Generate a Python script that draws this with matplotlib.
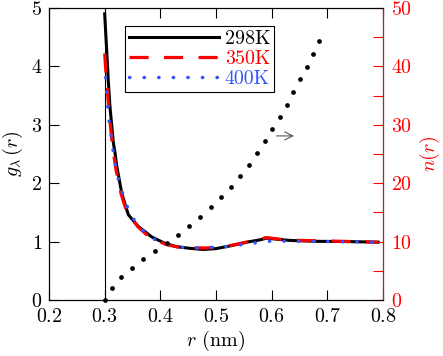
import matplotlib
matplotlib.use("Agg")
import matplotlib.pyplot as plt

plt.rcParams["font.family"] = "cmr10"
plt.rcParams["mathtext.fontset"] = "cm"
plt.rcParams["axes.formatter.use_mathtext"] = True
plt.rcParams["font.size"] = 14.4

# g(r) curves
r_298 = [0.300, 0.3035, 0.3065, 0.3096, 0.3126, 0.3155, 0.3186, 0.3216, 0.3306, 0.3425, 0.3604,
         0.3845, 0.4084, 0.4293, 0.453, 0.477, 0.500, 0.525, 0.555, 0.579, 0.591, 0.610, 0.633,
         0.680, 0.740, 0.791]
g_298 = [4.90, 4.30, 3.75, 3.30, 3.00, 2.70, 2.52, 2.30, 1.83, 1.46, 1.26,
         1.08, 0.97, 0.913, 0.885, 0.865, 0.88, 0.925, 0.99, 1.03, 1.06, 1.04, 1.02,
         1.005, 1.00, 0.99]

r_350 = [0.300, 0.3030, 0.3060, 0.3090, 0.3120, 0.3150, 0.3200, 0.3300, 0.3400, 0.3600, 0.3800,
         0.4100, 0.4300, 0.4550, 0.4800, 0.5050, 0.5300, 0.5600, 0.5800, 0.5900, 0.6150, 0.6500,
         0.7000, 0.7500, 0.7910]
g_350 = [4.22, 3.80, 3.45, 3.12, 2.82, 2.58, 2.25, 1.80, 1.50, 1.25, 1.08,
         0.95, 0.91, 0.895, 0.89, 0.905, 0.94, 1.00, 1.04, 1.07, 1.04, 1.02,
         1.01, 1.00, 0.99]

r_400 = [0.3018, 0.3036, 0.3054, 0.3078, 0.3114, 0.3144, 0.3186, 0.3234, 0.3306, 0.3378, 0.3486,
         0.3635, 0.3814, 0.4053, 0.430, 0.455, 0.480, 0.505, 0.530, 0.555, 0.580, 0.600,
         0.640, 0.700, 0.760, 0.791]
g_400 = [3.81, 3.56, 3.31, 3.07, 2.83, 2.60, 2.35, 2.11, 1.88, 1.66, 1.43,
         1.24, 1.07, 0.98, 0.91, 0.89, 0.895, 0.905, 0.925, 0.96, 0.99, 1.01,
         1.005, 1.00, 0.995, 0.99]

# coordination number n(r)
r_n = [0.300, 0.3126, 0.3293, 0.3486, 0.3694, 0.3904, 0.4114, 0.4323, 0.4520, 0.4718, 0.4905,
       0.5095, 0.5269, 0.5436, 0.5593, 0.5736, 0.5875, 0.6006, 0.6144, 0.6270, 0.6388, 0.6509,
       0.6629, 0.6742, 0.6850]
n_r = [0.0, 2.1, 3.94, 5.53, 6.97, 8.39, 9.81, 11.18, 12.67, 14.21, 15.87,
       17.58, 19.35, 21.23, 23.16, 25.1, 27.17, 29.28, 31.38, 33.44, 35.66, 37.78,
       39.94, 42.12, 44.34]

red = "#ff0000"
blue = "#3355ff"

fig = plt.figure(figsize=(4.43, 3.56), dpi=100)
ax = fig.add_axes([0.1106, 0.1573, 0.754, 0.8202])

ax.axvline(0.3, color="black", lw=0.8)
ax.plot(r_298, g_298, color="black", lw=2.2, label="298K")
ax.plot(r_350, g_350, color=red, lw=2.3, ls=(0, (6.0, 4.8)), label="350K")
ax.plot(r_400, g_400, color=blue, lw=2.5, ls=(0, (0.1, 4.1)),
        dash_capstyle="round", label="400K")

ax.set_xlim(0.2, 0.8)
ax.set_ylim(0, 5)
ax.set_xticks([0.2, 0.3, 0.4, 0.5, 0.6, 0.7, 0.8])
ax.set_yticks([0, 1, 2, 3, 4, 5])
ax.tick_params(direction="in", length=7, width=0.8, top=True, pad=5)
ax.tick_params(axis="x", pad=6)
ax.set_xlabel(r"$r$ (nm)", labelpad=2)
ax.set_ylabel(r"$g_\lambda\,(r)$", labelpad=4)

# arrow pointing to the right-hand axis
ax.annotate("", xy=(0.645, 2.81), xytext=(0.604, 2.81),
            arrowprops=dict(arrowstyle="->", color="#555555", lw=0.8))

leg = ax.legend(loc="upper left", bbox_to_anchor=(0.2266, 0.937), borderaxespad=0,
                handlelength=4.5, handletextpad=0.3, labelspacing=0.1, borderpad=0.2,
                fancybox=False, framealpha=1, edgecolor="black", labelcolor="linecolor")
leg.get_frame().set_linewidth(0.8)

ax2 = ax.twinx()
ax2.plot(r_n, n_r, ls="none", marker="o", ms=2.4, color="black", clip_on=False)
ax2.set_ylim(0, 50)
ax2.set_yticks(range(0, 51, 10))
ax2.set_yticks(range(5, 50, 10), minor=True)
ax2.tick_params(axis="y", which="both", direction="in", length=7, width=0.8,
                colors=red, pad=6)
ax2.spines["right"].set_color(red)
ax2.set_ylabel(r"$n(r)$", color=red, labelpad=4)
ax2.set_xlim(0.2, 0.8)

fig.savefig("out.png", dpi=100)
